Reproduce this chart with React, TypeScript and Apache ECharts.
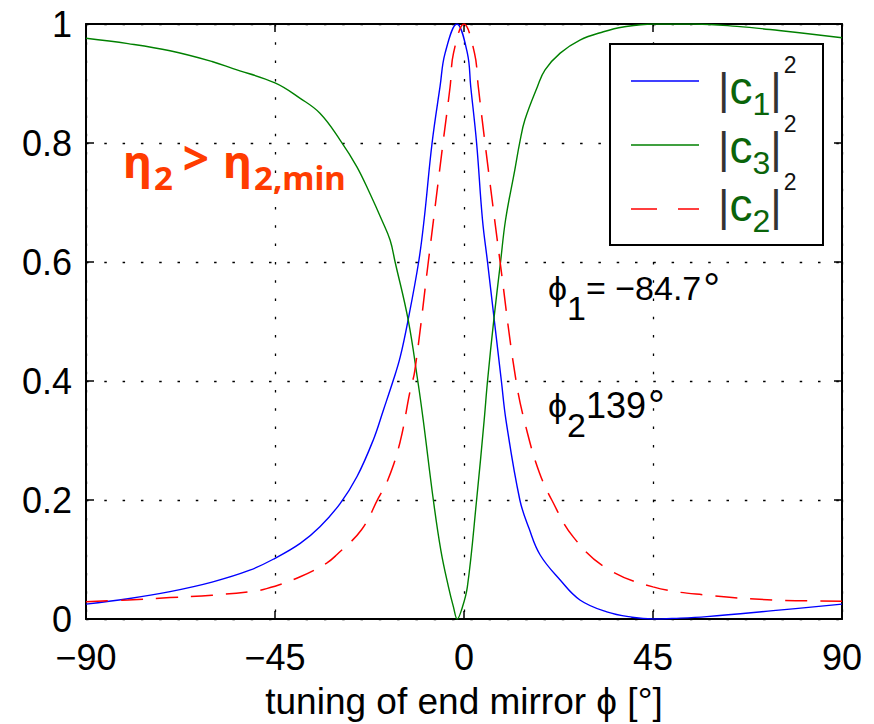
import React, { useEffect, useRef } from "react";
import * as echarts from "echarts";

// ---- data ----
const PHI_C1 = [-90, -80, -70, -60, -51, -45, -39, -34.3, -29.5, -25.5, -21.6, -19.2, -16.8, -15.2, -13.3, -10.8, -9.5, -7.6, -5.7, -4.5, -1.7, 0.8, 1.6, 3.0, 4.4, 5.6, 7.2, 8.9, 10.0, 13.3, 15.5, 18.1, 22.9, 27.6, 34, 40, 45, 50, 57.8, 73.6, 90];
const C1 = [0.025, 0.034, 0.046, 0.062, 0.082, 0.102, 0.127, 0.155, 0.194, 0.239, 0.301, 0.351, 0.402, 0.44, 0.503, 0.6, 0.671, 0.8, 0.895, 0.951, 1.0, 0.951, 0.895, 0.8, 0.671, 0.6, 0.503, 0.4, 0.334, 0.2, 0.152, 0.108, 0.0655, 0.032, 0.012, 0.003, 0.0, 0.001, 0.004, 0.014, 0.025];

const PHI_C3 = [-90, -80, -70, -60, -55, -45, -39, -34.3, -29.5, -25.5, -22.4, -19.6, -17.6, -16.4, -13.3, -11.0, -9.7, -7.3, -5.5, -3.7, -2.5, -1.6, -0.6, 0.8, 3.0, 4.8, 5.6, 7.1, 8.7, 9.9, 12.1, 13.3, 14.5, 17.5, 19.3, 22.9, 27.6, 33.2, 37.9, 45, 55, 65, 75, 90];
const C3 = [0.976, 0.967, 0.955, 0.937, 0.925, 0.901, 0.875, 0.85, 0.805, 0.76, 0.715, 0.671, 0.637, 0.6, 0.503, 0.4, 0.334, 0.2, 0.115, 0.054, 0.02, 0.0, 0.015, 0.054, 0.2, 0.334, 0.4, 0.503, 0.6, 0.671, 0.755, 0.802, 0.839, 0.895, 0.923, 0.951, 0.973, 0.987, 0.995, 1.0, 1.0, 0.996, 0.989, 0.977];

const PHI_C2 = [-90, -80, -70, -60, -51, -47, -39, -32.7, -30.3, -24.4, -20.4, -18, -15.2, -12.9, -11.7, -8.5, -5.0, -3.3, -2.5, 0, 2.5, 3.4, 5.0, 8.6, 12.4, 15.2, 18, 20.9, 26, 34, 45, 57.8, 73.6, 90];
const C2 = [0.029, 0.032, 0.036, 0.04, 0.046, 0.051, 0.071, 0.094, 0.108, 0.15, 0.203, 0.236, 0.298, 0.381, 0.418, 0.6, 0.8, 0.895, 0.951, 1.0, 0.951, 0.895, 0.8, 0.6, 0.4, 0.31, 0.245, 0.2, 0.138, 0.085, 0.054, 0.04, 0.032, 0.03];

const X_MIN = -90, X_MAX = 90, X_STEP = 45;
const Y_MIN = 0, Y_MAX = 1, Y_STEP = 0.2;

const AXIS_TITLE = "tuning of end mirror ϕ [°]";
const LEGEND_NAMES = ["|c1|2", "|c3|2", "|c2|2"];

const FONT = "'Liberation Sans', Arial, Helvetica, sans-serif";

function pairs(xs: number[], ys: number[]) {
  return xs.map((x, i) => [x, ys[i]]);
}

export default function App() {
  const ref = useRef<HTMLDivElement>(null);
  useEffect(() => {
    if (!ref.current) return;
    const chart = echarts.init(ref.current, null, { renderer: "svg" });
    const dotted = { type: [2.5, 15.8] as any, color: "#000", width: 1.3 };
    const tickStyle = { show: true, inside: true, length: 8, lineStyle: { color: "#000", width: 1.5 } };
    const axisLine = { show: true, onZero: false, lineStyle: { color: "#000", width: 2 } };
    const legendLabel = (sub: string) => `{b||}{c|c}{s|${sub}}{b||}{u|2}`;
    const legendRich = {
      b: { fontSize: 44, fontFamily: FONT, fill: "#333" },
      c: { fontSize: 46, fontFamily: FONT, fill: "#0a640a" },
      s: { fontSize: 32, fontFamily: FONT, fill: "#0a640a", padding: [32, 0, 0, 0] },
      u: { fontSize: 23, fontFamily: FONT, fill: "#111", padding: [0, 0, 46, 2] },
    };
    const orange = "#ff3c00";
    const lineCommon = { type: "line", showSymbol: false, symbol: "none", smooth: 0.4 };
    const option: any = {
      animation: false,
      backgroundColor: "#fff",
      grid: { left: 86, top: 24, width: 756, height: 595, containLabel: false, outerBoundsMode: "none" },
      xAxis: [
        {
          type: "value", min: X_MIN, max: X_MAX, interval: X_STEP, position: "bottom",
          axisLine, axisTick: tickStyle,
          splitLine: { show: true, lineStyle: dotted },
          axisLabel: {
            fontSize: 36, color: "#000", fontFamily: FONT, margin: 20,
            formatter: (v: number) => String(v).replace("-", "\u2212"),
          },
          name: AXIS_TITLE, nameLocation: "middle", nameGap: 64,
          nameTextStyle: { fontSize: 37, color: "#000", fontFamily: FONT },
        },
        {
          type: "value", min: X_MIN, max: X_MAX, interval: X_STEP, position: "top",
          axisLine, axisTick: tickStyle, splitLine: { show: false }, axisLabel: { show: false },
        },
      ],
      yAxis: [
        {
          type: "value", min: Y_MIN, max: Y_MAX, interval: Y_STEP, position: "left",
          axisLine, axisTick: tickStyle,
          splitLine: { show: true, lineStyle: dotted },
          axisLabel: {
            fontSize: 36, color: "#000", fontFamily: FONT, margin: 14,
            formatter: (v: number) => (v === 0 || v === 1 ? String(v) : v.toFixed(1)),
          },
        },
        {
          type: "value", min: Y_MIN, max: Y_MAX, interval: Y_STEP, position: "right",
          axisLine, axisTick: tickStyle, splitLine: { show: false }, axisLabel: { show: false },
        },
      ],
      series: [
        { ...lineCommon, name: LEGEND_NAMES[0], data: pairs(PHI_C1, C1), lineStyle: { color: "#0000ff", width: 1.4 } },
        { ...lineCommon, name: LEGEND_NAMES[1], data: pairs(PHI_C3, C3), lineStyle: { color: "#008000", width: 1.4 } },
        { ...lineCommon, name: LEGEND_NAMES[2], data: pairs(PHI_C2, C2), lineStyle: { color: "#ff0000", width: 1.5, type: [22, 13] } },
      ],
      graphic: [
        {
          type: "rect", z: 100, shape: { x: 610, y: 44, width: 213, height: 201 },
          style: { fill: "#fff", stroke: "#000", lineWidth: 2 },
        },
        { type: "line", z: 101, shape: { x1: 631, y1: 81, x2: 699, y2: 81 }, style: { stroke: "#0000ff", lineWidth: 1.5 } },
        { type: "line", z: 101, shape: { x1: 631, y1: 145, x2: 699, y2: 145 }, style: { stroke: "#008000", lineWidth: 1.5 } },
        { type: "line", z: 101, shape: { x1: 631, y1: 209, x2: 699, y2: 209 }, style: { stroke: "#ff0000", lineWidth: 1.5, lineDash: [26, 21] } },
        { type: "text", z: 101, x: 718, y: 88, style: { text: legendLabel("1"), verticalAlign: "middle", rich: legendRich } },
        { type: "text", z: 101, x: 718, y: 147, style: { text: legendLabel("3"), verticalAlign: "middle", rich: legendRich } },
        { type: "text", z: 101, x: 718, y: 205, style: { text: legendLabel("2"), verticalAlign: "middle", rich: legendRich } },
        {
          type: "text", z: 101, x: 123, y: 160,
          style: {
            text: "{e|η}{s|2}{g|>}{e|η}{s|2,min}", verticalAlign: "middle",
            rich: {
              e: { fontSize: 45, fontWeight: "bold", fontFamily: "'Noto Sans', sans-serif", fill: orange },
              s: { fontSize: 33, fontWeight: "bold", fontFamily: "'Noto Sans', sans-serif", fill: orange, padding: [34, 0, 0, 2] },
              g: { fontSize: 46, fontWeight: "bold", fontFamily: "'Noto Sans', sans-serif", fill: orange, padding: [0, 14, 6, 10] },
            },
          },
        },
        {
          type: "text", z: 101, x: 548, y: 288,
          style: {
            text: "{p|ϕ}{s|1}{m|= \u221284.7}{d|°}", verticalAlign: "middle",
            rich: {
              p: { fontSize: 34, fontFamily: FONT, fill: "#000" },
              s: { fontSize: 34, fontFamily: FONT, fill: "#000", padding: [40, 0, 0, 0] },
              m: { fontSize: 34, fontFamily: FONT, fill: "#000" },
              d: { fontSize: 42, fontFamily: FONT, fill: "#000", padding: [0, 0, 0, 2] },
            },
          },
        },
        {
          type: "text", z: 101, x: 548, y: 405,
          style: {
            text: "{p|ϕ}{s|2}{m|139}{d|°}", verticalAlign: "middle",
            rich: {
              p: { fontSize: 34, fontFamily: FONT, fill: "#000" },
              s: { fontSize: 34, fontFamily: FONT, fill: "#000", padding: [40, 0, 0, 0] },
              m: { fontSize: 36, fontFamily: FONT, fill: "#000" },
              d: { fontSize: 42, fontFamily: FONT, fill: "#000", padding: [0, 0, 0, 2] },
            },
          },
        },
      ],
    };
    chart.setOption(option);
    return () => chart.dispose();
  }, []);
  return <div ref={ref} style={{ position: "absolute", left: 0, top: 0, width: 874, height: 724 }} />;
}
